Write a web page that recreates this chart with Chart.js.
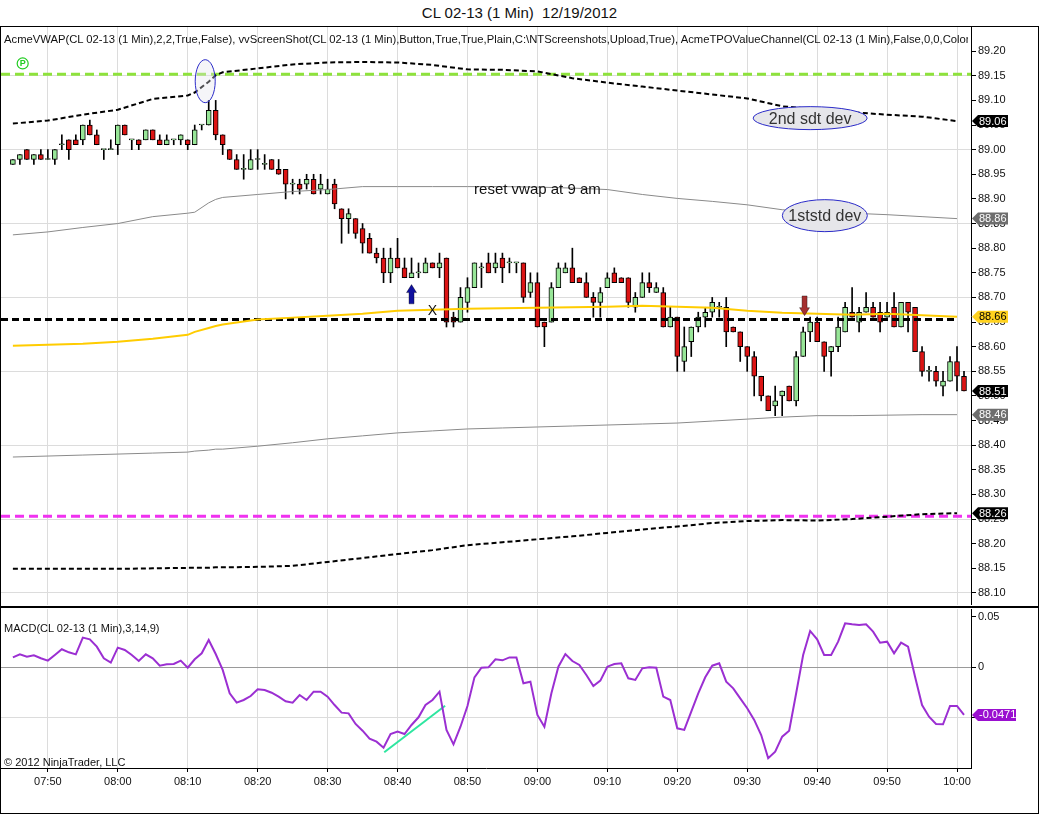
<!DOCTYPE html>
<html>
<head>
<meta charset="utf-8">
<title>CL 02-13 (1 Min) 12/19/2012</title>
<script src="https://cdn.jsdelivr.net/npm/chart.js@4.4.1/dist/chart.umd.min.js"></script>
<style>
  body { margin: 0; background: #fff; font-family: "Liberation Sans", Arial, sans-serif; }
  #wrap { position: relative; width: 1039px; height: 814px; overflow: hidden; }
  #title { position: absolute; top: 4px; left: 0; width: 1039px; text-align: center; font-size: 15px; color: #111; }
  #frame { position: absolute; left: 0; top: 26px; width: 1037px; height: 786px; border: 1px solid #000; }
  #sep { position: absolute; left: 0; top: 606px; width: 1039px; height: 2px; background: #000; }
  #priceChart { position: absolute; left: 0; top: 27px; }
  #macdChart { position: absolute; left: 0; top: 608px; }
  .lbl { position: absolute; left: 4px; font-size: 11px; color: #111; white-space: nowrap; overflow: hidden; }
</style>
</head>
<body>
<div id="wrap">
  <div id="title">CL 02-13 (1 Min)&nbsp; 12/19/2012</div>
  <div id="frame"></div>
  <canvas id="priceChart" width="1039" height="578"></canvas>
  <div id="sep"></div>
  <canvas id="macdChart" width="1039" height="206"></canvas>
  <div class="lbl" style="top:33px;width:964px;font-size:11.25px;">AcmeVWAP(CL 02-13 (1 Min),2,2,True,False), vvScreenShot(CL 02-13 (1 Min),Button,True,True,Plain,C:\NTScreenshots,Upload,True), AcmeTPOValueChannel(CL 02-13 (1 Min),False,0,0,Color)</div>
  <div class="lbl" style="top:622px;">MACD(CL 02-13 (1 Min),3,14,9)</div>
  <div class="lbl" style="top:756px;">© 2012 NinjaTrader, LLC</div>
</div>
<script>
Chart.defaults.font.family = '"Liberation Sans", Arial, sans-serif';
Chart.defaults.font.size = 11;
Chart.defaults.color = '#111';
Chart.defaults.animation = false;

// 1-minute bars, first bar 07:45 (minutes after midnight)
const startMinute = 465;

const opens = [
  88.97, 88.98, 89.00, 88.98, 88.99, 88.98, 88.98, 89.01, 89.02, 89.02,
  89.02, 89.05, 89.03, 89.00, 89.00, 89.01, 89.05, 89.02, 89.02, 89.02,
  89.04, 89.02, 89.01, 89.02, 89.02, 89.02, 89.01, 89.05, 89.05, 89.08,
  89.03, 89.00, 88.98, 88.96, 88.96, 88.98, 88.97, 88.98, 88.96, 88.96,
  88.93, 88.93, 88.93, 88.94, 88.92, 88.91, 88.93, 88.88, 88.86, 88.86,
  88.84, 88.82, 88.79, 88.78, 88.75, 88.78, 88.76, 88.74, 88.75, 88.75,
  88.77, 88.76, 88.78, 88.66, 88.65, 88.69, 88.72, 88.76, 88.77, 88.76,
  88.78, 88.77, 88.77, 88.77, 88.71, 88.73, 88.65, 88.65, 88.72, 88.75,
  88.76, 88.74, 88.73, 88.70, 88.69, 88.72, 88.75, 88.74, 88.74, 88.68,
  88.70, 88.73, 88.71, 88.71, 88.64, 88.66, 88.57, 88.61, 88.64, 88.66,
  88.67, 88.68, 88.68, 88.64, 88.63, 88.60, 88.58, 88.54, 88.50, 88.48,
  88.50, 88.52, 88.49, 88.58, 88.63, 88.65, 88.61, 88.59, 88.60, 88.63,
  88.67, 88.65, 88.67, 88.68, 88.67, 88.66, 88.68, 88.64, 88.69, 88.68,
  88.59, 88.55, 88.55, 88.52, 88.53, 88.57, 88.54
];
const highs = [
  88.98, 88.99, 89.00, 88.99, 89.00, 89.00, 89.00, 89.03, 89.02, 89.03,
  89.05, 89.06, 89.04, 89.00, 89.02, 89.05, 89.05, 89.02, 89.02, 89.04,
  89.04, 89.03, 89.03, 89.02, 89.03, 89.02, 89.05, 89.05, 89.10, 89.10,
  89.03, 89.00, 88.99, 88.99, 89.00, 89.00, 88.99, 88.98, 88.98, 88.96,
  88.94, 88.94, 88.95, 88.95, 88.95, 88.94, 88.94, 88.88, 88.88, 88.86,
  88.85, 88.83, 88.80, 88.80, 88.80, 88.82, 88.78, 88.78, 88.77, 88.78,
  88.77, 88.79, 88.78, 88.67, 88.72, 88.74, 88.77, 88.77, 88.79, 88.79,
  88.79, 88.78, 88.77, 88.77, 88.75, 88.75, 88.65, 88.73, 88.77, 88.77,
  88.80, 88.74, 88.75, 88.71, 88.72, 88.75, 88.76, 88.74, 88.74, 88.71,
  88.75, 88.75, 88.73, 88.72, 88.68, 88.66, 88.64, 88.64, 88.67, 88.68,
  88.70, 88.69, 88.70, 88.64, 88.63, 88.60, 88.59, 88.54, 88.50, 88.52,
  88.51, 88.52, 88.59, 88.64, 88.66, 88.66, 88.61, 88.60, 88.66, 88.69,
  88.72, 88.68, 88.71, 88.69, 88.69, 88.69, 88.71, 88.69, 88.69, 88.68,
  88.60, 88.56, 88.56, 88.55, 88.58, 88.60, 88.55
];
const lows = [
  88.97, 88.97, 88.98, 88.97, 88.98, 88.98, 88.97, 89.00, 88.98, 89.01,
  89.01, 89.03, 89.01, 88.98, 89.00, 88.99, 89.03, 89.00, 89.00, 89.02,
  89.02, 89.01, 89.01, 89.01, 89.01, 89.00, 89.01, 89.04, 89.05, 89.02,
  88.99, 88.98, 88.96, 88.94, 88.96, 88.96, 88.96, 88.96, 88.95, 88.90,
  88.91, 88.91, 88.92, 88.91, 88.91, 88.91, 88.88, 88.81, 88.83, 88.82,
  88.79, 88.79, 88.77, 88.73, 88.73, 88.76, 88.74, 88.74, 88.74, 88.75,
  88.76, 88.74, 88.64, 88.64, 88.65, 88.67, 88.72, 88.72, 88.75, 88.75,
  88.73, 88.75, 88.75, 88.69, 88.70, 88.64, 88.60, 88.65, 88.72, 88.75,
  88.73, 88.73, 88.70, 88.66, 88.66, 88.72, 88.73, 88.73, 88.68, 88.67,
  88.70, 88.71, 88.71, 88.64, 88.64, 88.55, 88.55, 88.58, 88.63, 88.64,
  88.66, 88.66, 88.60, 88.63, 88.57, 88.55, 88.50, 88.49, 88.47, 88.46,
  88.46, 88.49, 88.48, 88.58, 88.61, 88.61, 88.55, 88.54, 88.59, 88.63,
  88.66, 88.63, 88.67, 88.66, 88.63, 88.66, 88.64, 88.64, 88.63, 88.59,
  88.54, 88.53, 88.52, 88.50, 88.53, 88.51, 88.51
];
const closes = [
  88.98, 88.99, 88.98, 88.99, 88.98, 88.98, 89.00, 89.01, 89.00, 89.01,
  89.05, 89.03, 89.01, 89.00, 89.00, 89.05, 89.03, 89.02, 89.01, 89.04,
  89.02, 89.01, 89.02, 89.02, 89.03, 89.01, 89.04, 89.05, 89.08, 89.03,
  89.01, 88.98, 88.96, 88.96, 88.98, 88.98, 88.97, 88.96, 88.95, 88.93,
  88.93, 88.92, 88.94, 88.91, 88.93, 88.92, 88.89, 88.86, 88.87, 88.83,
  88.81, 88.79, 88.78, 88.75, 88.78, 88.76, 88.74, 88.75, 88.75, 88.77,
  88.76, 88.77, 88.65, 88.65, 88.70, 88.72, 88.77, 88.76, 88.75, 88.77,
  88.76, 88.77, 88.77, 88.70, 88.73, 88.64, 88.64, 88.72, 88.76, 88.76,
  88.73, 88.73, 88.70, 88.69, 88.71, 88.74, 88.73, 88.73, 88.69, 88.70,
  88.73, 88.72, 88.72, 88.64, 88.66, 88.58, 88.60, 88.64, 88.66, 88.67,
  88.69, 88.68, 88.63, 88.63, 88.60, 88.58, 88.54, 88.50, 88.47, 88.49,
  88.51, 88.49, 88.58, 88.63, 88.65, 88.61, 88.58, 88.60, 88.64, 88.68,
  88.66, 88.67, 88.68, 88.66, 88.65, 88.67, 88.64, 88.69, 88.67, 88.59,
  88.55, 88.55, 88.53, 88.53, 88.57, 88.54, 88.51
];
const macdValues = [
  0.0098, 0.0128, 0.0105, 0.0118, 0.0089, 0.0066, 0.0122, 0.0178, 0.0148, 0.0128,
  0.0293, 0.0276, 0.0204, 0.0089, 0.0046, 0.0194, 0.0171, 0.0122, 0.0062, 0.0128,
  0.0089, 0.0016, 0.0029, 0.0033, 0.0066, -0.0004, 0.0079, 0.0138, 0.0270, 0.0131,
  -0.0026, -0.0257, -0.0349, -0.0323, -0.0284, -0.0218, -0.0224, -0.0251, -0.0290, -0.0336,
  -0.0349, -0.0274, -0.0323, -0.0241, -0.0241, -0.0290, -0.0373, -0.0448, -0.0455, -0.0560,
  -0.0626, -0.0705, -0.0735, -0.0794, -0.0659, -0.0636, -0.0659, -0.0570, -0.0494, -0.0373,
  -0.0323, -0.0241, -0.0620, -0.0761, -0.0587, -0.0382, -0.0099, -0.0004, 0.0000, 0.0079,
  0.0069, 0.0098, 0.0098, -0.0158, -0.0142, -0.0471, -0.0587, -0.0257, 0.0006, 0.0131,
  0.0062, 0.0023, -0.0076, -0.0185, -0.0132, 0.0006, 0.0033, 0.0039, -0.0109, -0.0125,
  -0.0010, 0.0000, -0.0004, -0.0290, -0.0323, -0.0603, -0.0619, -0.0438, -0.0257, -0.0099,
  0.0016, 0.0039, -0.0142, -0.0208, -0.0307, -0.0405, -0.0520, -0.0669, -0.0899, -0.0834,
  -0.0685, -0.0626, -0.0257, 0.0122, 0.0359, 0.0276, 0.0122, 0.0122, 0.0253, 0.0434,
  0.0425, 0.0418, 0.0425, 0.0352, 0.0243, 0.0253, 0.0138, 0.0243, 0.0204, -0.0093,
  -0.0373, -0.0488, -0.0560, -0.0563, -0.0382, -0.0382, -0.0471
];
const barTimes = opens.map((_, i) => startMinute + i);

// VWAP and deviation bands, read every 5 minutes (plus the jump near 08:11)
const bandTimes = [465, 470, 475, 480, 485, 490, 491, 493, 494, 495, 500, 505, 510, 515, 520,
  525, 530, 535, 540, 545, 550, 555, 560, 565, 570, 575, 580, 585, 590, 595, 600];
const upper2 = [89.053, 89.059, 89.071, 89.081, 89.103, 89.110, 89.116, 89.138, 89.151, 89.157, 89.165,
  89.173, 89.177, 89.178, 89.177, 89.172, 89.163, 89.162, 89.159, 89.145, 89.136, 89.128, 89.120,
  89.112, 89.104, 89.088, 89.082, 89.076, 89.071, 89.067, 89.058];
const upper1 = [88.827, 88.833, 88.842, 88.850, 88.864, 88.871, 88.873, 88.892, 88.899, 88.903, 88.909,
  88.915, 88.919, 88.925, 88.925, 88.925, 88.925, 88.925, 88.924, 88.922, 88.919, 88.909, 88.901,
  88.895, 88.888, 88.878, 88.874, 88.871, 88.868, 88.864, 88.860];
const vwap = [88.602, 88.604, 88.606, 88.610, 88.616, 88.624, 88.630, 88.638, 88.642, 88.645, 88.655,
  88.659, 88.663, 88.667, 88.673, 88.675, 88.677, 88.678, 88.679, 88.680, 88.681, 88.683, 88.681,
  88.679, 88.673, 88.669, 88.667, 88.665, 88.667, 88.664, 88.661];
const lower1 = [88.376, 88.378, 88.380, 88.382, 88.384, 88.386, 88.388, 88.390, 88.392, 88.392, 88.398,
  88.405, 88.413, 88.419, 88.425, 88.429, 88.433, 88.435, 88.437, 88.439, 88.441, 88.443, 88.445,
  88.449, 88.453, 88.457, 88.460, 88.460, 88.461, 88.462, 88.462];
const lower2 = [88.149, 88.149, 88.149, 88.149, 88.150, 88.151, 88.151, 88.151, 88.152, 88.152, 88.153,
  88.155, 88.163, 88.171, 88.179, 88.187, 88.197, 88.203, 88.209, 88.215, 88.222, 88.229, 88.235,
  88.242, 88.246, 88.248, 88.247, 88.250, 88.255, 88.260, 88.262];

// horizontal levels
const pivotLevel = 89.153;
const valueLevel = 88.655;
const lowLevel = 88.256;

// MACD trend line drawn by hand on the chart
const trendTimes = [518.1, 526.8];
const trendValues = [-0.084, -0.038];

const timeRange = [463.3, 602.0];
const priceRange = [88.0756, 89.249];
const macdRange = [-0.0995, 0.0576];

// chart notes, in data coordinates
const highlight = { t: 492.5, p: 89.139 };
const pivotMark = { t: 466.4, p: 89.175, text: 'P' };
const buyArrow = { t: 522, from: 88.687, to: 88.726 };
const sellArrow = { t: 578.2, from: 88.703, to: 88.663 };
const crossMark = { t: 525.0, p: 88.672, text: 'X' };
const noteText = { t: 540, p: 88.919, text: 'reset vwap at 9 am' };
const bubbles = [
  { t: 579.0, p: 89.064, text: '2nd sdt dev' },
  { t: 581.1, p: 88.866, text: '1ststd dev' }
];

function hhmm(m) {
  const h = Math.floor(m / 60), mm = Math.round(m % 60);
  return String(h).padStart(2, '0') + ':' + String(mm).padStart(2, '0');
}
function pts(ts, vs) { return ts.map((t, i) => ({ x: t, y: vs[i] })); }
function level(v, t1) { return [{ x: timeRange[0], y: v }, { x: t1, y: v }]; }

function drawTag(ctx, area, y, bg, fg, text, w) {
  const x = area.right;
  ctx.beginPath();
  ctx.moveTo(x + 1, y);
  ctx.lineTo(x + 7, y - 6);
  ctx.lineTo(x + 7 + w, y - 6);
  ctx.lineTo(x + 7 + w, y + 6);
  ctx.lineTo(x + 7, y + 6);
  ctx.closePath();
  ctx.fillStyle = bg;
  ctx.fill();
  ctx.fillStyle = fg;
  ctx.font = '11px "Liberation Sans", Arial, sans-serif';
  ctx.textAlign = 'left';
  ctx.textBaseline = 'middle';
  ctx.fillText(text, x + 8, y + 0.5);
}

function drawArrow(ctx, px, yTail, yTip, color) {
  const head = yTip < yTail ? -8 : 8;
  ctx.beginPath();
  ctx.moveTo(px, yTip);
  ctx.lineTo(px + 5, yTip - head);
  ctx.lineTo(px + 2.5, yTip - head);
  ctx.lineTo(px + 2.5, yTail);
  ctx.lineTo(px - 2.5, yTail);
  ctx.lineTo(px - 2.5, yTip - head);
  ctx.lineTo(px - 5, yTip - head);
  ctx.closePath();
  ctx.fillStyle = color;
  ctx.fill();
  ctx.strokeStyle = 'rgba(0,0,0,0.35)';
  ctx.lineWidth = 1;
  ctx.stroke();
}

const priceNotes = {
  id: 'priceNotes',
  afterDatasetsDraw(chart) {
    const { ctx, scales: { x, y } } = chart;
    ctx.save();
    // highlight ellipse around the band jump
    ctx.beginPath();
    ctx.ellipse(x.getPixelForValue(highlight.t), y.getPixelForValue(highlight.p), 10, 21.5, 0, 0, Math.PI * 2);
    ctx.fillStyle = 'rgba(225,225,235,0.35)';
    ctx.fill();
    ctx.strokeStyle = '#2a2ac8';
    ctx.lineWidth = 1;
    ctx.stroke();

    // P marker
    const mx = x.getPixelForValue(pivotMark.t), my = y.getPixelForValue(pivotMark.p);
    ctx.beginPath();
    ctx.arc(mx, my, 5.5, 0, Math.PI * 2);
    ctx.strokeStyle = '#22cc22';
    ctx.lineWidth = 1.2;
    ctx.stroke();
    ctx.fillStyle = '#22cc22';
    ctx.font = 'bold 9px "Liberation Sans", Arial, sans-serif';
    ctx.textAlign = 'center';
    ctx.textBaseline = 'middle';
    ctx.fillText(pivotMark.text, mx, my + 0.5);

    drawArrow(ctx, x.getPixelForValue(buyArrow.t), y.getPixelForValue(buyArrow.from), y.getPixelForValue(buyArrow.to), '#10109e');
    drawArrow(ctx, x.getPixelForValue(sellArrow.t), y.getPixelForValue(sellArrow.from), y.getPixelForValue(sellArrow.to), '#a53030');

    ctx.fillStyle = '#111';
    ctx.font = '14px "Liberation Sans", Arial, sans-serif';
    ctx.textAlign = 'center';
    ctx.fillText(crossMark.text, x.getPixelForValue(crossMark.t), y.getPixelForValue(crossMark.p));

    ctx.font = '15px "Liberation Sans", Arial, sans-serif';
    ctx.fillText(noteText.text, x.getPixelForValue(noteText.t), y.getPixelForValue(noteText.p));

    const radii = [[57, 11.5], [42.5, 16]];
    bubbles.forEach((b, i) => {
      const bx = x.getPixelForValue(b.t), by = y.getPixelForValue(b.p);
      ctx.beginPath();
      ctx.ellipse(bx, by, radii[i][0], radii[i][1], 0, 0, Math.PI * 2);
      ctx.fillStyle = '#e6e6ea';
      ctx.fill();
      ctx.strokeStyle = '#2a2ac8';
      ctx.lineWidth = 1;
      ctx.stroke();
      ctx.fillStyle = '#333';
      ctx.font = '16px "Liberation Sans", Arial, sans-serif';
      ctx.fillText(b.text, bx, by + 1);
    });
    ctx.restore();
  },
  afterDraw(chart) {
    const { ctx, chartArea, scales: { y } } = chart;
    ctx.save();
    chart.data.datasets.forEach(ds => {
      if (!ds.tag) return;
      const v = ds.tag.value !== undefined ? ds.tag.value : ds.data[ds.data.length - 1].y;
      drawTag(ctx, chartArea, y.getPixelForValue(v), ds.tag.bg, ds.tag.fg, v.toFixed(2), 30);
    });
    ctx.restore();
  }
};

const macdNotes = {
  id: 'macdNotes',
  afterDraw(chart) {
    const { ctx, chartArea, scales: { y } } = chart;
    const v = macdValues[macdValues.length - 1];
    ctx.save();
    drawTag(ctx, chartArea, y.getPixelForValue(v), '#9a0fd0', '#fff', v.toFixed(4), 38);
    ctx.restore();
  }
};

const wickData = barTimes.map((t, i) => ({ x: t, y: [lows[i], highs[i]] }));
const bodyData = barTimes.map((t, i) => ({ x: t, y: [opens[i], closes[i]] }));
const bodyColors = closes.map((c, i) => (c >= opens[i] ? '#98e698' : '#dc1414'));

const gridGray = '#dcdcdc';
const xAxisBase = {
  type: 'linear',
  min: timeRange[0],
  max: timeRange[1],
  offset: false,
  ticks: { stepSize: 10, includeBounds: false, autoSkip: false, maxRotation: 0, callback: v => hhmm(v) },
  grid: { color: gridGray, offset: false }
};

new Chart(document.getElementById('priceChart'), {
  type: 'bar',
  data: {
    datasets: [
      { type: 'line', data: pts(bandTimes, upper2), borderColor: '#000', borderWidth: 2, borderDash: [5, 3],
        pointRadius: 0, order: 0, tag: { bg: '#000', fg: '#fff' } },
      { type: 'line', data: pts(bandTimes, upper1), borderColor: '#8a8a8a', borderWidth: 1,
        pointRadius: 0, order: 0, tag: { bg: '#6e6e6e', fg: '#fff' } },
      { type: 'line', data: pts(bandTimes, vwap), borderColor: '#ffcc00', borderWidth: 2,
        pointRadius: 0, order: 0, tag: { bg: '#ffd21f', fg: '#000' } },
      { type: 'line', data: pts(bandTimes, lower1), borderColor: '#8a8a8a', borderWidth: 1,
        pointRadius: 0, order: 0, tag: { bg: '#6e6e6e', fg: '#fff' } },
      { type: 'line', data: pts(bandTimes, lower2), borderColor: '#000', borderWidth: 2, borderDash: [5, 3],
        pointRadius: 0, order: 0, tag: { bg: '#000', fg: '#fff' } },
      { type: 'line', data: level(pivotLevel, timeRange[1]), borderColor: '#8ee23c', borderWidth: 3,
        borderDash: [9, 5], pointRadius: 0, order: 0 },
      { type: 'line', data: level(lowLevel, timeRange[1]), borderColor: '#f032f0', borderWidth: 3,
        borderDash: [9, 5], pointRadius: 0, order: 0 },
      { type: 'line', data: level(valueLevel, 600), borderColor: '#000', borderWidth: 3,
        borderDash: [7, 4], pointRadius: 0, order: 0 },
      { type: 'bar', data: bodyData, backgroundColor: bodyColors, borderColor: '#000', borderWidth: 1,
        borderSkipped: false, barThickness: 5, minBarLength: 1, grouped: false, order: 1,
        tag: { bg: '#000', fg: '#fff', value: closes[closes.length - 1] } },
      { type: 'bar', data: wickData, backgroundColor: '#000', borderWidth: 0,
        barThickness: 1, grouped: false, order: 2 }
    ]
  },
  options: {
    responsive: false,
    events: [],
    layout: { padding: { left: 1, right: 0, top: 0, bottom: 0 } },
    plugins: { legend: { display: false }, tooltip: { enabled: false } },
    scales: {
      x: Object.assign({}, xAxisBase, {
        ticks: Object.assign({}, xAxisBase.ticks, { display: false }),
        grid: { color: gridGray, offset: false, drawTicks: false },
        border: { display: false },
        afterFit(s) { s.height = 0; s.paddingLeft = 0; s.paddingRight = 0; }
      }),
      y: {
        position: 'right',
        min: priceRange[0],
        max: priceRange[1],
        ticks: { stepSize: 0.05, includeBounds: false, padding: 2, callback: v => v.toFixed(2) },
        grid: {
          color: c => (Math.round((c.tick.value - 88.10) / 0.05) % 3 === 0 ? gridGray : 'rgba(0,0,0,0)'),
          tickColor: '#000',
          tickLength: 5
        },
        border: { display: true, color: '#000' },
        afterFit(s) { s.width = 68; s.paddingTop = 0; s.paddingBottom = 0; }
      }
    }
  },
  plugins: [priceNotes]
});

new Chart(document.getElementById('macdChart'), {
  type: 'line',
  data: {
    datasets: [
      { data: pts(barTimes, macdValues), borderColor: '#9b2fd2', borderWidth: 2, pointRadius: 0 },
      { data: pts(trendTimes, trendValues), borderColor: '#2ee6a0', borderWidth: 2, pointRadius: 0 }
    ]
  },
  options: {
    responsive: false,
    events: [],
    layout: { padding: { left: 1, right: 0, top: 1, bottom: 0 } },
    plugins: { legend: { display: false }, tooltip: { enabled: false } },
    scales: {
      x: Object.assign({}, xAxisBase, {
        ticks: Object.assign({}, xAxisBase.ticks, { padding: 3, color: '#111' }),
        grid: { color: gridGray, offset: false, tickColor: '#000', tickLength: 4 },
        border: { display: true, color: '#000' },
        afterFit(s) { s.height = 46; s.paddingLeft = 0; s.paddingRight = 0; }
      }),
      y: {
        position: 'right',
        min: macdRange[0],
        max: macdRange[1],
        ticks: { stepSize: 0.05, includeBounds: false, padding: 2,
          callback: v => (Math.abs(v) < 1e-9 ? '0' : v.toFixed(2)) },
        grid: {
          color: c => (Math.abs(c.tick.value) < 1e-9 ? '#9a9a9a' : (c.tick.value < 0 ? gridGray : 'rgba(0,0,0,0)')),
          tickColor: '#000',
          tickLength: 5
        },
        border: { display: true, color: '#000' },
        afterFit(s) { s.width = 68; s.paddingTop = 0; s.paddingBottom = 0; }
      }
    }
  },
  plugins: [macdNotes]
});
</script>
</body>
</html>
